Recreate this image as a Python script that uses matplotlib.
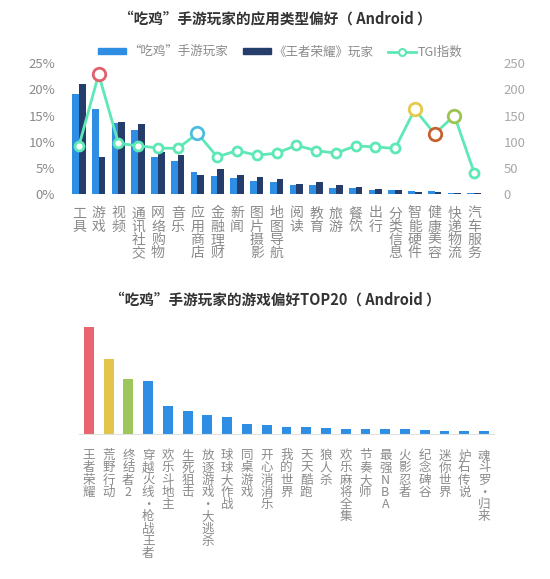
import numpy as np
import matplotlib.pyplot as plt
from matplotlib.lines import Line2D
from matplotlib.patches import Patch

plt.rcParams['font.family'] = ['Noto Sans CJK SC', 'DejaVu Sans']

# Top chart data: app type preference
app_types = ["工具", "游戏", "视频", "通讯社交", "网络购物", "音乐", "应用商店", "金融理财",
             "新闻", "图片摄影", "地图导航", "阅读", "教育", "旅游", "餐饮", "出行",
             "分类信息", "智能硬件", "健康美容", "快递物流", "汽车服务"]
chiji_pct = [19.1, 16.3, 13.6, 12.3, 7.1, 6.4, 4.2, 3.4, 3.1, 2.4, 2.3, 1.8, 1.8,
             1.1, 1.1, 0.8, 0.7, 0.6, 0.6, 0.25, 0.1]
wzry_pct = [21.0, 7.1, 13.8, 13.4, 8.1, 7.4, 3.6, 4.8, 3.7, 3.2, 2.9, 2.0, 2.2,
            1.7, 1.3, 1.0, 0.8, 0.4, 0.4, 0.1, 0.25]
tgi = [92, 229, 97, 92, 88, 87, 116, 71, 83, 74, 78, 93, 83, 78, 92, 90, 87,
       162, 115, 150, 41]
highlight = {"游戏": "#e2606e", "应用商店": "#4cbde0", "智能硬件": "#e6c84a",
             "健康美容": "#c5612e", "快递物流": "#9cc452"}

# Bottom chart data: game preference top 20
games = ["王者荣耀", "荒野行动", "终结者2", "穿越火线·枪战王者", "欢乐斗地主", "生死狙击",
         "放逐游戏·大逃杀", "球球大作战", "同桌游戏", "开心消消乐", "我的世界", "天天酷跑",
         "狼人杀", "欢乐麻将全集", "节奏大师", "最强NBA", "火影忍者", "纪念碑谷",
         "迷你世界", "炉石传说", "魂斗罗·归来"]
game_vals = [32.2, 22.6, 16.6, 15.9, 8.5, 6.9, 5.7, 5.0, 3.0, 2.7, 2.2, 2.2,
             1.9, 1.6, 1.6, 1.6, 1.4, 1.2, 0.9, 0.9, 0.9]
game_colors = ["#e8646f", "#e3c54c", "#9dc75c"] + ["#2e8ee3"] * 18

light_blue = "#2e8ee3"
navy = "#243d6b"
teal = "#5de8b6"
gray = "#8a8a8a"


def vertical(s):
    return "\n".join(s)


fig = plt.figure(figsize=(5.5, 5.79), dpi=100)

# ---- top chart ----
ax = fig.add_axes([0.1255, 0.665, 0.7545, 0.2257])
x = np.arange(len(app_types))
ax.bar(x - 0.17, chiji_pct, width=0.34, color=light_blue)
ax.bar(x + 0.17, wzry_pct, width=0.34, color=navy)
ax.set_xlim(-0.5, len(app_types) - 0.5)
ax.set_ylim(0, 25)
ax.set_yticks([0, 5, 10, 15, 20, 25])
ax.set_yticklabels([f"{v}%" for v in [0, 5, 10, 15, 20, 25]], fontweight="light")
ax.set_xticks(x)
ax.set_xticklabels([vertical(s) for s in app_types], va="top", linespacing=0.92,
                   fontweight="light")
ax.tick_params(axis="y", length=0, labelsize=9.5, colors=gray, pad=10)
ax.tick_params(axis="x", length=0, labelsize=10, colors=gray, pad=9)
for s in ax.spines.values():
    s.set_visible(False)

ax2 = ax.twinx()
ax2.plot(x, tgi, color=teal, lw=2, zorder=3)
for xi, name, v in zip(x, app_types, tgi):
    if name in highlight:
        ax2.plot(xi, v, "o", ms=9, mfc="white", mec=highlight[name], mew=2, zorder=4)
    else:
        ax2.plot(xi, v, "o", ms=6.5, mfc="white", mec=teal, mew=2, zorder=4)
ax2.set_ylim(0, 250)
ax2.set_yticks([0, 50, 100, 150, 200, 250])
ax2.set_yticklabels(["0", "50", "100", "150", "200", "250"], fontweight="light")
ax2.tick_params(axis="y", length=0, labelsize=9.5, colors="#a8a8a8", pad=14)
for s in ax2.spines.values():
    s.set_visible(False)

fig.text(0.5, 1 - 18 / 579, "“吃鸡”手游玩家的应用类型偏好（ Android ）", ha="center",
         va="center", fontsize=10.5, fontweight="bold", color="#333333")

handles = [Patch(color=light_blue), Patch(color=navy),
           Line2D([], [], color=teal, lw=2, marker="o", ms=5, mfc="white", mec=teal, mew=1.5)]
fig.legend(handles, ["“吃鸡”手游玩家", "《王者荣耀》玩家", "TGI指数"],
           loc="center", bbox_to_anchor=(0.51, 1 - 52 / 579), ncol=3, frameon=False,
           prop={"size": 9, "weight": "light"}, labelcolor=gray, handlelength=2.2,
           handleheight=0.4, handletextpad=0.2, columnspacing=1.2)

# ---- bottom chart ----
bx = fig.add_axes([0.1436, 0.2504, 0.7545, 0.1922])
gx = np.arange(len(games))
bx.bar(gx, game_vals, width=0.5, color=game_colors)
bx.set_xlim(-0.5, len(games) - 0.5)
bx.set_ylim(0, 33.5)
bx.set_yticks([])
bx.set_xticks(gx)
bx.set_xticklabels([vertical(s) for s in games], va="top", linespacing=0.92,
                   fontweight="light")
bx.tick_params(axis="x", length=0, labelsize=9, colors=gray, pad=11)
for k, s in bx.spines.items():
    s.set_visible(k == "bottom")
bx.spines["bottom"].set_color("#e0e0e0")

fig.text(0.5, 1 - 300 / 579, "“吃鸡”手游玩家的游戏偏好TOP20（ Android ）", ha="center",
         va="center", fontsize=10.5, fontweight="bold", color="#333333")

fig.savefig("out.png", dpi=100, facecolor="white")
